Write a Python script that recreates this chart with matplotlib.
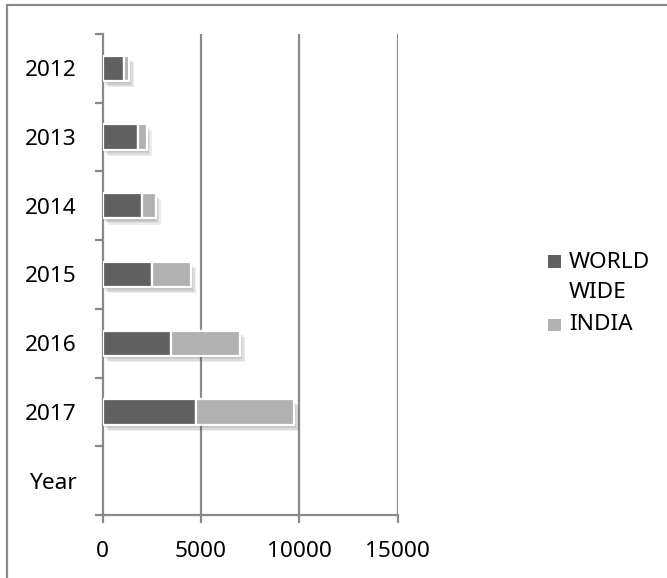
import matplotlib
matplotlib.use("Agg")
import matplotlib.pyplot as plt
import matplotlib.patheffects as pe
from matplotlib.patches import Rectangle
import numpy as np

plt.rcParams['font.family'] = ['Noto Sans', 'DejaVu Sans']

# Data
categories = ["2012", "2013", "2014", "2015", "2016", "2017", "Year"]
years = ["2012", "2013", "2014", "2015", "2016", "2017"]
world_wide = [1100, 1800, 2000, 2500, 3500, 4750]
india = [250, 450, 700, 2000, 3500, 5000]
x_ticks = [0, 5000, 10000, 15000]
series_names = ["WORLD\nWIDE", "INDIA"]
colors = ["#616161", "#b1b1b1"]

W, H = 667, 578
fig = plt.figure(figsize=(W / 100, H / 100), dpi=100)
ax = fig.add_axes([102.7 / W, 1 - 515 / H, (397.5 - 102.7) / W, (515 - 34) / H])

axis_gray = "#8a8a8a"
# soft drop shadow built from a few faint offset copies
shadow = [pe.SimplePatchShadow(offset=(o, -o - 1), shadow_rgbFace="black", alpha=0.07)
          for o in (0.5, 1.5, 2.5, 3.5)] + [pe.Normal()]

pos = np.arange(len(years))
bar_h = 0.37
b1 = ax.barh(pos, world_wide, height=bar_h, color=colors[0], edgecolor="white", linewidth=1.6, zorder=3)
b2 = ax.barh(pos, india, left=world_wide, height=bar_h, color=colors[1], edgecolor="white", linewidth=1.6, zorder=3)
for bars in (b1, b2):
    for p in bars:
        p.set_path_effects(shadow)

ax.set_xlim(0, 15000)
ax.set_ylim(len(categories) - 0.5, -0.5)

# vertical gridlines
for v in x_ticks[1:]:
    ax.axvline(v, color=axis_gray, lw=1.6, zorder=1)

ax.set_xticks(x_ticks)
ax.set_xticklabels([str(v) for v in x_ticks])
ax.tick_params(axis="x", direction="out", length=6, width=1.6, color=axis_gray,
               labelsize=16.3, pad=13)

# category boundaries as ticks, labels at centres
ax.set_yticks(np.arange(len(categories) + 1) - 0.5)
ax.set_yticklabels([])
ax.set_yticks(np.arange(len(categories)), minor=True)
ax.set_yticklabels(categories, minor=True)
ax.tick_params(axis="y", which="major", direction="out", length=5.5, width=1.6, color=axis_gray)
ax.tick_params(axis="y", which="minor", length=0, labelsize=16.3, pad=19)

for s in ["top", "right"]:
    ax.spines[s].set_visible(False)
for s in ["left", "bottom"]:
    ax.spines[s].set_color(axis_gray)
    ax.spines[s].set_linewidth(1.6)

# legend
leg_items = [(262, series_names[0], colors[0]), (325, series_names[1], colors[1])]
for y, label, c in leg_items:
    fig.patches.append(Rectangle((548 / W, 1 - (y + 6) / H), 12.5 / W, 12.5 / H,
                                 transform=fig.transFigure, facecolor=c, edgecolor="none"))
    lines = label.split("\n")
    for i, ln in enumerate(lines):
        fig.text(569 / W, 1 - (y + i * 31) / H, ln, fontsize=16.3, va="center", ha="left")

# outer frame
fig.patches.append(Rectangle((7 / W, -0.05), 1.1, 1.05 - 5.5 / H, transform=fig.transFigure,
                             facecolor="none", edgecolor=axis_gray, linewidth=1.6, zorder=0))

fig.savefig("out.png", dpi=100)
